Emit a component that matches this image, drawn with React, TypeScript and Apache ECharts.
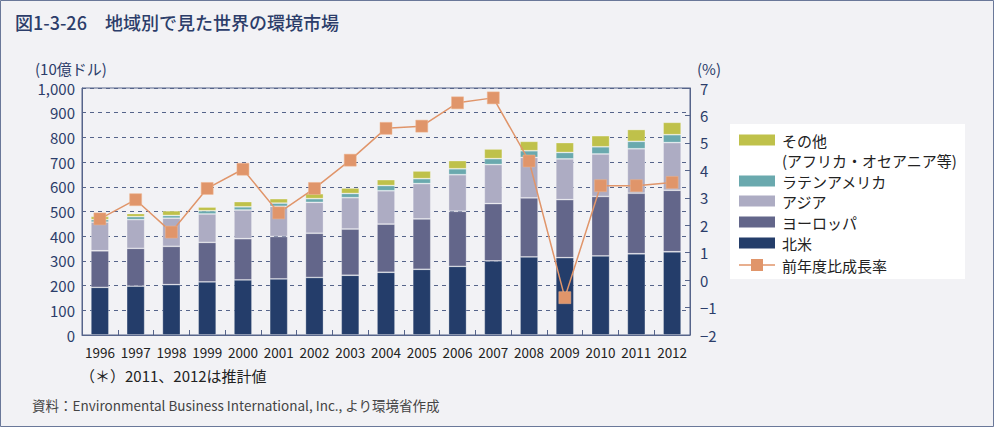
import React, { useEffect, useRef } from "react";
import * as echarts from "echarts";

const years = ["1996","1997","1998","1999","2000","2001","2002","2003","2004","2005","2006","2007","2008","2009","2010","2011","2012"];
const northAmerica = [193,198,204,215,223,227,233,242,254,266,278,300,316,313,320,329,337];
const europe = [148,153,155,160,167,172,179,187,195,204,223,232,239,235,241,245,249];
const asia = [116,116,114,115,116,122,125,127,135,143,148,158,164,165,172,180,193];
const latinAmerica = [10,12,11,13,13,13,15,17,21,20,24,24,27,26,29,30,32];
const others = [13,13,19,15,21,18,20,22,24,31,33,39,38,40,45,48,50];
const growthRate = [2.23,2.93,1.75,3.34,4.04,2.45,3.34,4.37,5.53,5.61,6.46,6.64,4.34,-0.64,3.44,3.44,3.56];
const leftTicks = { min: 0, max: 1000, interval: 100 };
const rightTicks = { min: -2, max: 7, interval: 1 };

const C_NA = "#243d6a";
const C_EU = "#63668a";
const C_AS = "#adacc3";
const C_LA = "#6aa9ae";
const C_OT = "#bfc14a";
const C_LINE = "#e0956a";
const AXIS = "#56648a";
const NAVY = "#2c3d6a";
const FONT = "'Noto Sans CJK JP', 'Noto Sans', sans-serif";

export default function App() {
  const ref = useRef<HTMLDivElement>(null);
  useEffect(() => {
    document.body.style.margin = "0";
    const chart = echarts.init(ref.current!, null, { renderer: "svg" });
    const barSeries = (name: string, data: number[], color: string) => ({
      name,
      type: "bar",
      stack: "total",
      barWidth: 18,
      data,
      itemStyle: { color, borderColor: "rgba(255,255,255,0.35)", borderWidth: 0.8 },
    });
    const legendRows = [
      { label: "その他", color: C_OT, y: 140 },
      { label: "ラテンアメリカ", color: C_LA, y: 181 },
      { label: "アジア", color: C_AS, y: 201 },
      { label: "ヨーロッパ", color: C_EU, y: 222 },
      { label: "北米", color: C_NA, y: 243 },
    ];
    const legendEls: any[] = [
      { type: "rect", shape: { x: 730, y: 124, width: 235, height: 155 }, style: { fill: "#ffffff" } },
    ];
    const LF = `15px ${FONT}`;
    legendRows.forEach((r) => {
      legendEls.push({ type: "rect", shape: { x: 739, y: r.y - 5.5, width: 36, height: 11 }, style: { fill: r.color } });
      legendEls.push({ type: "text", x: 782, y: r.y, style: { text: r.label, fill: "#222", font: LF, verticalAlign: "middle" } });
    });
    legendEls.push({ type: "text", x: 782, y: 160, style: { text: "(アフリカ・オセアニア等)", fill: "#222", font: LF, verticalAlign: "middle" } });
    legendEls.push({ type: "line", shape: { x1: 739, y1: 265, x2: 775, y2: 265 }, style: { stroke: C_LINE, lineWidth: 1.5 } });
    legendEls.push({ type: "rect", shape: { x: 751, y: 259, width: 12, height: 12 }, style: { fill: C_LINE } });
    legendEls.push({ type: "text", x: 782, y: 265, style: { text: "前年度比成長率", fill: "#222", font: LF, verticalAlign: "middle" } });

    chart.setOption({
      animation: false,
      backgroundColor: "#f2f2f5",
      textStyle: { fontFamily: FONT },
      grid: { left: 82, right: 304, top: 88, bottom: 92, show: true, borderColor: AXIS, borderWidth: 1, outerBoundsMode: "none" } as any,
      xAxis: {
        type: "category",
        data: years,
        axisLine: { lineStyle: { color: AXIS, width: 1 } },
        axisTick: { show: true, inside: true, length: 5, lineStyle: { color: AXIS } },
        axisLabel: { color: "#222", fontSize: 13.5, margin: 10, interval: 0, fontFamily: FONT },
      },
      yAxis: [
        {
          type: "value",
          min: leftTicks.min,
          max: leftTicks.max,
          interval: leftTicks.interval,
          axisLine: { show: true, lineStyle: { color: AXIS } },
          axisTick: { show: false },
          axisLabel: { color: NAVY, fontSize: 15, margin: 7, padding: [4, 0, 0, 0], fontFamily: FONT, formatter: (v: number) => v.toLocaleString("en-US") },
          splitLine: { show: true, lineStyle: { color: AXIS, type: [4, 4], width: 1 } },
        },
        {
          type: "value",
          position: "right",
          min: rightTicks.min,
          max: rightTicks.max,
          interval: rightTicks.interval,
          axisLine: { show: true, lineStyle: { color: AXIS } },
          axisTick: { show: true, inside: true, length: 5, lineStyle: { color: AXIS } },
          axisLabel: { color: NAVY, fontSize: 15, margin: 10, fontFamily: FONT, formatter: (v: number) => (v < 0 ? "\u2212" + Math.abs(v) : String(v)) },
          splitLine: { show: false },
        },
      ],
      series: [
        barSeries("北米", northAmerica, C_NA),
        barSeries("ヨーロッパ", europe, C_EU),
        barSeries("アジア", asia, C_AS),
        barSeries("ラテンアメリカ", latinAmerica, C_LA),
        barSeries("その他", others, C_OT),
        {
          name: "前年度比成長率",
          type: "line",
          yAxisIndex: 1,
          data: growthRate,
          symbol: "rect",
          symbolSize: 12,
          lineStyle: { color: C_LINE, width: 1.5 },
          itemStyle: { color: C_LINE, borderColor: "#eeb48f", borderWidth: 0.5 },
          z: 5,
        },
      ],
      graphic: [
        { type: "rect", shape: { x: 0.5, y: 0.5, width: 993, height: 426 }, style: { fill: "none", stroke: "#6a7899", lineWidth: 1 } },
        { type: "text", x: 15, y: 22, style: { text: "図1-3-26　地域別で見た世界の環境市場", fill: NAVY, font: `500 18px ${FONT}`, verticalAlign: "middle" } },
        { type: "text", x: 35, y: 68, style: { text: "(10億ドル)", fill: NAVY, font: `15px ${FONT}`, verticalAlign: "middle" } },
        { type: "text", x: 697, y: 68, style: { text: "(%)", fill: NAVY, font: `15px ${FONT}`, verticalAlign: "middle" } },
        { type: "text", x: 80, y: 375, style: { text: "（＊）2011、2012は推計値", fill: "#222", font: `15px ${FONT}`, verticalAlign: "middle" } },
        { type: "text", x: 32, y: 405, style: { text: "資料：Environmental Business International, Inc., より環境省作成", fill: "#444", font: `13.5px ${FONT}`, verticalAlign: "middle" } },
        ...legendEls,
      ],
    });
    return () => chart.dispose();
  }, []);
  return <div ref={ref} style={{ position: "absolute", left: 0, top: 0, width: 994, height: 427 }} />;
}
